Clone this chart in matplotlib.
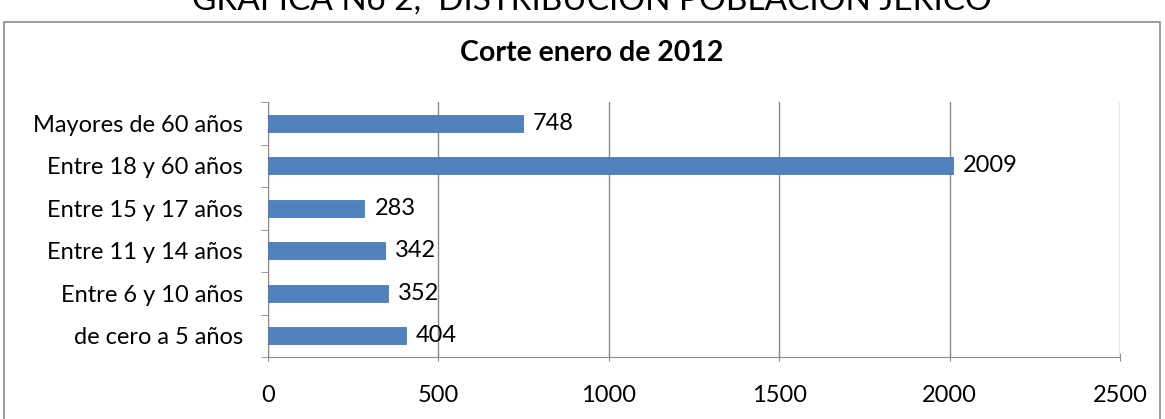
import matplotlib.pyplot as plt
from matplotlib.patches import Rectangle

categorias = ['de cero a 5 años', 'Entre 6 y 10 años', 'Entre 11 y 14 años',
              'Entre 15 y 17 años', 'Entre 18 y 60 años', 'Mayores de 60 años']
valores = [404, 352, 342, 283, 2009, 748]
xticks = [0, 500, 1000, 1500, 2000, 2500]

plt.rcParams['font.family'] = ['Lato', 'DejaVu Sans']

fig = plt.figure(figsize=(11.65, 4.19), dpi=100)
ax = fig.add_axes([268/1165, 1 - 357/419, (1120 - 268)/1165, (357 - 102)/419])

# frame around the chart
fig.patches.append(Rectangle((4/1165, -0.05), (1160 - 4)/1165, 1 - 22/419 + 0.05,
                             transform=fig.transFigure, fill=False,
                             edgecolor='#8c8c8c', linewidth=1.2))

y = range(len(categorias))
ax.barh(y, valores, height=0.4, color='#4f81bd', edgecolor='#4a7ab5', linewidth=0.6, zorder=3)
for i, v in enumerate(valores):
    ax.text(v + 30, i, str(v), va='center', ha='left', fontsize=17)

ax.set_xlim(0, 2500)
ax.set_ylim(-0.5, len(categorias) - 0.5)
ax.set_xticks(xticks)
ax.set_xticklabels([str(t) for t in xticks], fontsize=17)
ax.set_yticks(list(y))
ax.set_yticklabels(categorias, fontsize=17)
ax.set_yticks([i - 0.5 for i in range(len(categorias) + 1)], minor=True)
ax.grid(axis='x', color='#8c8c8c', linewidth=1, zorder=0)
ax.tick_params(axis='y', which='major', length=0, pad=18)
ax.tick_params(axis='y', which='minor', length=5, color='#8c8c8c', direction='out')
ax.tick_params(axis='x', length=6, color='#8c8c8c', direction='inout', pad=17)
for s in ['top', 'right']:
    ax.spines[s].set_visible(False)
for s in ['left', 'bottom']:
    ax.spines[s].set_color('#8c8c8c')

fig.text(592/1165, 1 - 53/419, 'Corte enero de 2012', ha='center', va='center',
         fontsize=20.5, fontweight='bold')
fig.text(592/1165, 1 - 10/419, 'GRÁFICA No 2,  DISTRIBUCIÓN POBLACIÓN JERICÓ',
         ha='center', va='baseline', fontsize=24)

fig.savefig('out.png', dpi=100)
